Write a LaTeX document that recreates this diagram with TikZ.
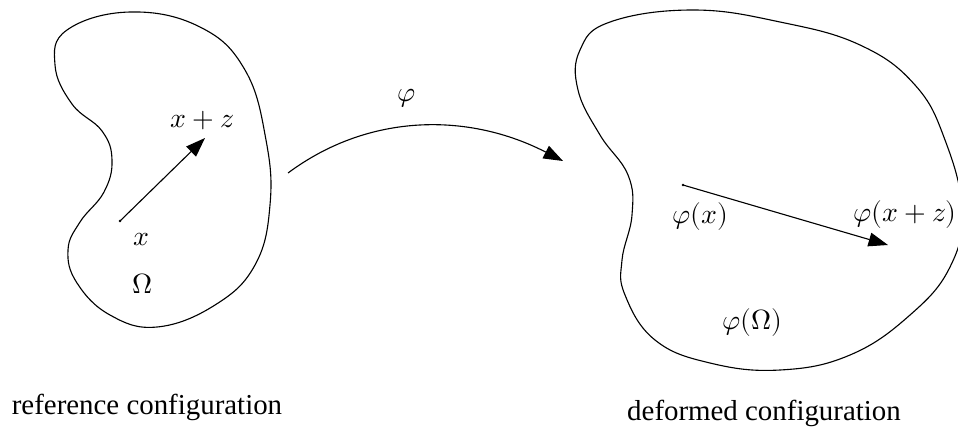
\documentclass[tikz,border=0pt]{standalone}
\usepackage{fontspec}
\setmainfont{Liberation Serif}
\usepackage{unicode-math}
\setmathfont{Latin Modern Math}
\usetikzlibrary{arrows.meta}
\tikzset{
  blob/.style={line width=0.4pt, line join=round},
  vec/.style={line width=0.4pt, -{Triangle[length=7pt,width=5pt]}},
  mlabel/.style={inner sep=0pt, font=\fontsize{10}{12}\selectfont},
  caption/.style={inner sep=0pt, font=\fontsize{10.4}{12}\selectfont}
}
\begin{document}
\begin{tikzpicture}[x=0.36pt,y=-0.36pt]
\useasboundingbox (0,0) rectangle (958,432);
\clip (0,0) rectangle (958,432);
% reference blob
\draw[blob] plot[smooth cycle, tension=0.7] coordinates {
 (130,12) (200,27) (245,70) (266,140) (270,205) (255,265) (215,305) (157,327)
 (110,315) (77,283) (68,250) (80,222) (104,192) (112,160) (102,131) (72,104)
 (55,65) (67,30)};
% deformed blob
\draw[blob] plot[smooth cycle, tension=0.7] coordinates {
 (693,10) (780,22) (860,45) (915,85) (945,140) (962,210) (950,267) (910,315)
 (850,355) (780,370) (710,363) (655,340) (625,295) (622,260) (632,215) (628,175)
 (600,135) (578,90) (580,50) (610,22)};
% left vector
\coordinate (xa) at (120,221);
\coordinate (xb) at (205,138);
\draw[vec] (xa) -- (xb);
\fill (xa) circle (0.5pt);
\node[mlabel] (lxz) at (202,121) {$x+z$};
\node[mlabel] (lx) at (141,240) {$x$};
\node[mlabel] (lom) at (143,284) {$\Omega$};
% right vector
\coordinate (ya) at (683,185);
\coordinate (yb) at (888,245);
\draw[vec] (ya) -- (yb);
\fill (ya) circle (0.5pt);
\node[mlabel] (lpx) at (700,217) {$\varphi(x)$};
\node[mlabel] (lpxz) at (905,215) {$\varphi(x+z)$};
\node[mlabel] (lpom) at (752,323) {$\varphi(\Omega)$};
% mapping arrow
\coordinate (ma) at (288,173);
\coordinate (mb) at (563,161);
\draw[vec] (ma) .. controls (370,112) and (470,113) .. (mb);
\node[mlabel] (lphi) at (407,98) {$\varphi$};
% captions
\node[caption] (cref) at (147,407) {reference configuration};
\node[caption] (cdef) at (764,413) {deformed configuration};
\end{tikzpicture}
\end{document}
